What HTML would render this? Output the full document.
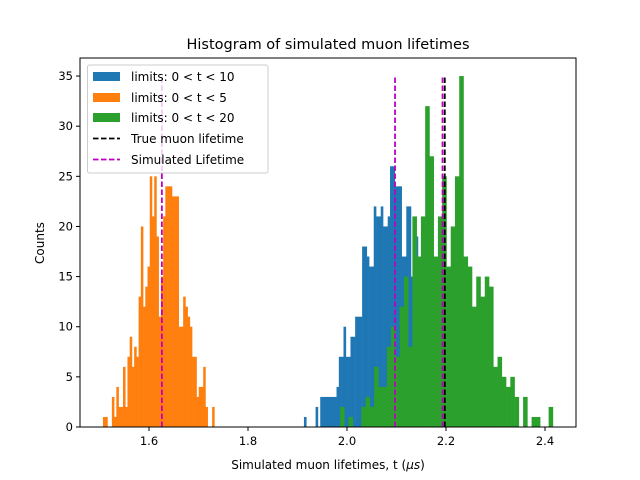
<!DOCTYPE html>
<html><head><meta charset="utf-8"><style>
body{margin:0;background:#fff;}
svg{display:block;font-family:"DejaVu Sans","Liberation Sans",sans-serif;}
</style></head><body>
<svg id="chart" width="640" height="480" xmlns="http://www.w3.org/2000/svg">
<rect width="640" height="480" fill="#fff"/>
<g id="bars"></g>
<g id="vlines"></g>
<rect x="80" y="58" width="496" height="369" fill="none" stroke="#000" stroke-width="1"/>
<g id="xticks"></g><g id="yticks"></g>
<text x="328" y="49" text-anchor="middle" font-size="14.5">Histogram of simulated muon lifetimes</text>
<text x="328" y="469" text-anchor="middle" font-size="12">Simulated muon lifetimes, t (<tspan font-style="italic">μs</tspan>)</text>
<text x="44" y="243" text-anchor="middle" font-size="12" transform="rotate(-90 44 243)">Counts</text>
<g>
<rect x="87.5" y="65" width="180.5" height="108" rx="2" fill="#fff" fill-opacity="0.8" stroke="#ccc"/>
<g><rect x="93" y="72" width="27" height="9" fill="#1f77b4"/><text x="131" y="81" font-size="12">limits: 0 &lt; t &lt; 10</text></g>
<g><rect x="93" y="93" width="27" height="9" fill="#ff7f0e"/><text x="131" y="102" font-size="12">limits: 0 &lt; t &lt; 5</text></g>
<g><rect x="93" y="113" width="27" height="9" fill="#2ca02c"/><text x="131" y="122" font-size="12">limits: 0 &lt; t &lt; 20</text></g>
<g><line x1="93" y1="138.5" x2="120" y2="138.5" stroke="#000" stroke-width="1.8" stroke-dasharray="5.5,2.5"/><text x="131" y="143" font-size="12">True muon lifetime</text></g>
<g><line x1="93" y1="159.5" x2="120" y2="159.5" stroke="#bf00bf" stroke-width="1.8" stroke-dasharray="5.5,2.5"/><text x="131" y="164" font-size="12">Simulated Lifetime</text></g>
</g>
</svg>
<script>
const blueStart = 1.913, blueWidth = 0.0047;
const blueCounts = [1,0,0,0,0,2,0,3,3,3,3,3,3,3,4,7,7,10,7,7,9,9,11,11,11,18,18,17,16,16,22,21,21,22,20,20,21,26,26,24,24,24,17,17,22,22,15,15,19,12];
const orangeStart = 1.507, orangeWidth = 0.0045;
const orangeCounts = [1,1,0,0,3,1,4,2,2,6,2,7,9,6,8,7,13,20,12,14,16,25,21,25,19,11,15,21,24,24,24,23,23,23,10,10,13,12,11,10,7,7,3,4,4,6,2,0,0,2];
const greenStart = 1.9859, greenWidth = 0.0086;
const greenCounts = [2,0,1,0,0,2,3,2,6,4,4,8,10,7,12,15,8,21,17,21,32,27,17,21,25,16,20,25,35,17,16,12,15,13,15,14,6,7,5,4,5,3,0,3,0,1,1,0,0,2];
const yTicks = [0,5,10,15,20,25,30,35];
const xTicks = [1.6,1.8,2.0,2.2,2.4];
const xTickLabels = ["1.6","1.8","2.0","2.2","2.4"];
const trueLifetime = 2.1975;
const simLifetimes = [1.626, 2.097, 2.193];
const lineTop = 35.0;

const X0 = 80, X1 = 576, Y0 = 427, Y1 = 58;
const xMin = 1.4606, xMax = 2.4626, yMin = 0, yMax = 36.8;
function xs(v){return X0 + (v - xMin) / (xMax - xMin) * (X1 - X0);}
function ys(v){return Y0 - (v - yMin) / (yMax - yMin) * (Y0 - Y1);}
const NS = "http://www.w3.org/2000/svg";
const barsG = document.getElementById('bars');
function drawSeries(start, width, counts, color, name){
  const g = document.createElementNS(NS,'g');
  
  
  counts.forEach((c,i)=>{
    if(!c) return;
    const r = document.createElementNS(NS,'rect');
    const xa = xs(start + i*width), xb = xs(start + (i+1)*width);
    r.setAttribute('x', xa); r.setAttribute('width', xb - xa + 0.3);
    r.setAttribute('y', ys(c)); r.setAttribute('height', ys(0) - ys(c));
    r.setAttribute('fill', color);
    
    
    g.appendChild(r);
  });
  barsG.appendChild(g);
}
drawSeries(blueStart, blueWidth, blueCounts, '#1f77b4', 'blue');
drawSeries(orangeStart, orangeWidth, orangeCounts, '#ff7f0e', 'orange');
drawSeries(greenStart, greenWidth, greenCounts, '#2ca02c', 'green');

const vl = document.getElementById('vlines');
function vline(v, color, name){
  const l = document.createElementNS(NS,'line');
  l.setAttribute('x1', xs(v)); l.setAttribute('x2', xs(v));
  l.setAttribute('y1', ys(0)); l.setAttribute('y2', ys(lineTop));
  l.setAttribute('stroke', color); l.setAttribute('stroke-width', '1.8');
  l.setAttribute('stroke-dasharray', '5.5,2.5');
  
  
  vl.appendChild(l);
}
vline(trueLifetime, '#000', 'true-lifetime-line');
simLifetimes.forEach(v=>vline(v, '#bf00bf', 'simulated-lifetime-line'));

const xt = document.getElementById('xticks');
xTicks.forEach((v,i)=>{
  const l = document.createElementNS(NS,'line');
  l.setAttribute('x1', xs(v)); l.setAttribute('x2', xs(v));
  l.setAttribute('y1', Y0); l.setAttribute('y2', Y0+4);
  l.setAttribute('stroke','#000');
  
  
  xt.appendChild(l);
  const t = document.createElementNS(NS,'text');
  t.setAttribute('x', xs(v)); t.setAttribute('y', Y0+18);
  t.setAttribute('text-anchor','middle'); t.setAttribute('font-size','11.5');
  t.textContent = xTickLabels[i];
  
  
  xt.appendChild(t);
});
const yt = document.getElementById('yticks');
yTicks.forEach(v=>{
  const l = document.createElementNS(NS,'line');
  l.setAttribute('x1', X0-4); l.setAttribute('x2', X0);
  l.setAttribute('y1', ys(v)); l.setAttribute('y2', ys(v));
  l.setAttribute('stroke','#000');
  
  
  yt.appendChild(l);
  const t = document.createElementNS(NS,'text');
  t.setAttribute('x', X0-7); t.setAttribute('y', ys(v)+4);
  t.setAttribute('text-anchor','end'); t.setAttribute('font-size','11.5');
  t.textContent = String(v);
  
  
  yt.appendChild(t);
});
</script>
</body></html>
